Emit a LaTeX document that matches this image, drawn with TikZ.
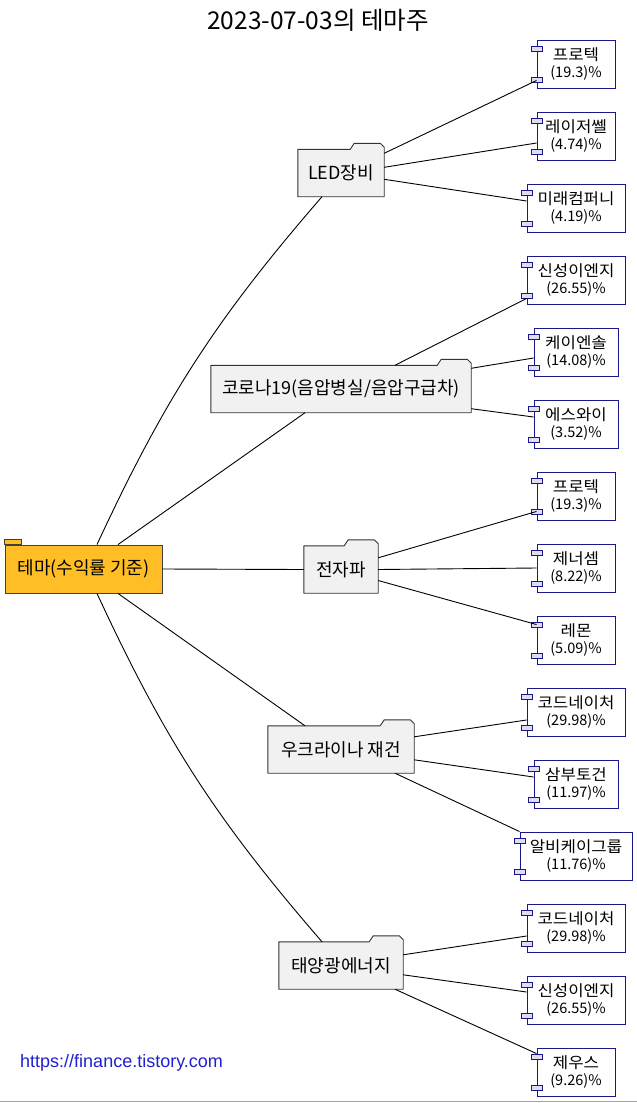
\documentclass[tikz,border=0pt]{standalone}
\usepackage{fontspec}
\setmainfont{Noto Sans CJK KR}
\newfontfamily\linkfont{Liberation Sans}
\newfontfamily\namefont[FakeStretch=1.08]{Noto Sans CJK KR}
\usetikzlibrary{calc,backgrounds}
\definecolor{rootfill}{RGB}{255,190,38}
\definecolor{themefill}{RGB}{241,241,241}
\definecolor{navyline}{RGB}{24,24,140}
\definecolor{pinfill}{RGB}{222,222,240}
\definecolor{linkblue}{RGB}{32,32,210}
\newcommand\compnode[5]{%
  \node[compbox, minimum width=#3pt] (#1) at (576,{64+72*#2}) {{\namefont\fontsize{15.5}{17}\selectfont #4}\\{\fontsize{14.5}{17}\selectfont #5}};
  \draw[pinbox] ($(#1.north west)+(-5.5,6.5)$) rectangle ++(11,5);
  \draw[pinbox] ($(#1.south west)+(-5.5,-11.5)$) rectangle ++(11,5);
}
\newcommand\folderpath[1]{%
  \begin{scope}[on background layer]
  \filldraw[folder] (#1.south west) -- (#1.north west) -- ($(#1.north east)+(-34,0)$) -- ++(4,-6) -- ++(26,0) -- ++(4,4) -- (#1.south east) -- cycle;
  \end{scope}
}
\begin{document}
\begin{tikzpicture}[x=1pt,y=-1pt,
  edge/.style={draw=black, line width=0.9pt},
  rootbox/.style={draw=black!75, fill=rootfill, line width=0.9pt, minimum width=157pt, minimum height=48pt, inner sep=0pt, font=\fontsize{18}{21}\selectfont},
  themebox/.style={draw=none, fill=none, minimum height=47pt, inner sep=0pt, font=\fontsize{18}{21}\selectfont},
  folder/.style={draw=black!80, fill=themefill, line width=0.9pt, line join=round},
  compbox/.style={draw=navyline, fill=white, line width=0.9pt, minimum height=48pt, inner sep=0pt, align=center, font=\fontsize{15}{17}\selectfont},
  pinbox/.style={draw=navyline, fill=pinfill, line width=0.8pt},
]
\begin{scope}[on background layer]
\fill[white] (0,0) rectangle (637,1103);
\end{scope}
\useasboundingbox (0,0) rectangle (637,1103);

\node (title) at (318,20) {\fontsize{24.5}{28}\selectfont 2023-07-03의 테마주};

% root
\node[rootbox] (root) at (83.5,569) {테마(수익률 기준)};
\filldraw[draw=black!75, fill=rootfill, line width=0.9pt] (root.north west) rectangle ++(17,-5);

% themes
\node[themebox, minimum width=86pt] (led) at (341,173) {LED장비};
\folderpath{led}
\node[themebox, minimum width=260pt] (corona) at (341,389) {코로나19(음압병실/음압구급차)};
\folderpath{corona}
\node[themebox, minimum width=74pt] (emw) at (341,569.5) {전자파};
\folderpath{emw}
\node[themebox, minimum width=146pt] (ukr) at (341,749.5) {우크라이나 재건};
\folderpath{ukr}
\node[themebox, minimum width=124pt] (solar) at (341,965.5) {태양광에너지};
\folderpath{solar}

% components
\compnode{c1}{0}{78}{프로텍}{(19.3)\%}
\compnode{c2}{1}{78}{레이저쎌}{(4.74)\%}
\compnode{c3}{2}{98}{미래컴퍼니}{(4.19)\%}
\compnode{c4}{3}{98}{신성이엔지}{(26.55)\%}
\compnode{c5}{4}{84}{케이엔솔}{(14.08)\%}
\compnode{c6}{5}{84}{에스와이}{(3.52)\%}
\compnode{c7}{6}{78}{프로텍}{(19.3)\%}
\compnode{c8}{7}{78}{제너셈}{(8.22)\%}
\compnode{c9}{8}{78}{레몬}{(5.09)\%}
\compnode{c10}{9}{98}{코드네이처}{(29.98)\%}
\compnode{c11}{10}{84}{삼부토건}{(11.97)\%}
\compnode{c12}{11}{112}{알비케이그룹}{(11.76)\%}
\compnode{c13}{12}{98}{코드네이처}{(29.98)\%}
\compnode{c14}{13}{98}{신성이엔지}{(26.55)\%}
\compnode{c15}{14}{78}{제우스}{(9.26)\%}

% root edges
\draw[edge] ($(root.north)+(13.5,0)$) to[bend left=8] ($(led.south)+(-19,0)$);
\draw[edge] ($(root.north)+(34.5,0)$) -- ($(corona.south)+(-36,0)$);
\draw[edge] (root.east) -- (emw.west);
\draw[edge] ($(root.south)+(34.5,0)$) -- ($(ukr.north)+(-36,0)$);
\draw[edge] ($(root.south)+(13.5,0)$) to[bend right=8] ($(solar.north)+(-19,0)$);

% LED
\draw[edge] ($(led.north east)+(0,4)$) -- ($(c1.south west)+(0,-8)$);
\draw[edge] ($(led.north east)+(0,18)$) -- ($(c2.west)+(0,7)$);
\draw[edge] ($(led.north east)+(0,30)$) -- ($(c3.west)+(0,-7)$);
% corona
\draw[edge] ($(corona.north)+(54,0)$) -- ($(c4.south west)+(0,-6)$);
\draw[edge] ($(corona.north east)+(0,3)$) -- ($(c5.west)+(0,6)$);
\draw[edge] ($(corona.south east)+(0,-4)$) -- ($(c6.west)+(0,-7)$);
% emw
\draw[edge] ($(emw.north east)+(0,12)$) -- ($(c7.south west)+(0,-9)$);
\draw[edge] (emw.east) -- (c8.west);
\draw[edge] ($(emw.east)+(0,11)$) -- ($(c9.north west)+(0,9)$);
% ukr
\draw[edge] ($(ukr.north east)+(0,11)$) -- ($(c10.west)+(0,8)$);
\draw[edge] ($(ukr.north east)+(0,34)$) -- ($(c11.west)+(0,-7)$);
\draw[edge] ($(ukr.south)+(54,0)$) -- (c12.north west);
% solar
\draw[edge] ($(solar.north east)+(0,13)$) -- ($(c13.west)+(0,8)$);
\draw[edge] ($(solar.north east)+(0,33)$) -- ($(c14.west)+(0,-8)$);
\draw[edge] ($(solar.south)+(54,0)$) -- ($(c15.north west)+(0,6)$);

\node[anchor=west, text=linkblue, font=\linkfont\fontsize{18}{21}\selectfont, inner sep=0pt] (link) at (20,1063) {https://finance.tistory.com};
\draw[black!35, line width=1.2pt] (0,1101.5) -- (637,1101.5);
\end{tikzpicture}
\end{document}
